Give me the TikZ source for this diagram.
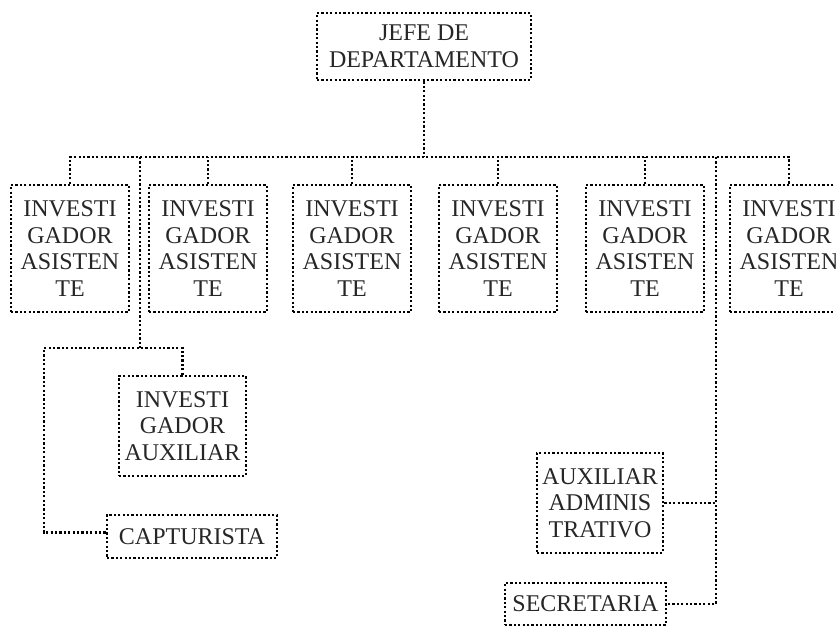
\documentclass[tikz,border=0pt]{standalone}
\usepackage{fontspec}
\setmainfont{Liberation Serif}
\begin{document}
\begin{tikzpicture}[x=1pt,y=-1pt,line width=2.6pt,
  font=\fontsize{24}{26.7}\selectfont,
  dots/.style={dash pattern=on 2.2pt off 2.2pt},
  unit/.style={draw,dots,align=center,inner sep=0pt,text=black!85},
  link/.style={dots}]
  \clip (0,0) rectangle (836,627);
  % head of the department and the main bus.
  \node[unit,minimum width=214,minimum height=67] (jefe) at (424,46.5)
    {JEFE DE\\DEPARTAMENTO};
  \coordinate (bus) at (424,157);
  \draw[link] (jefe) -- (bus);
  % row of assistant researchers.
  \foreach \n/\x in {a1/70,a2/208,a3/352,a4/498,a5/645,a6/789}{
    \node[unit,minimum width=118,minimum height=127] (\n) at (\x,248.5)
      {INVESTI\\GADOR\\ASISTEN\\TE};
  }
  \draw[link] (a1.north) |- (bus) -| (a6.north);
  \foreach \n in {a2,a3,a4,a5}{\draw[link] (\n.north) -- (\n.north |- bus);}
  % left branch: auxiliary researcher and data entry.
  \node[unit,minimum width=127,minimum height=100] (aux) at (182.5,426)
    {INVESTI\\GADOR\\AUXILIAR};
  \node[unit,minimum width=170,minimum height=43] (captur) at (192,536.5)
    {CAPTURISTA};
  \coordinate (lsplit) at (140,157);
  \coordinate (lhub) at (140,348);
  \coordinate (lcorner) at (44,348);
  \draw[link] (lsplit) -- (lhub);
  \draw[link] (aux.north) |- (lhub) -- (lcorner) |- ([yshift=4]captur.west);
  % right branch: administrative staff.
  \node[unit,minimum width=126,minimum height=100] (admin) at (600,503)
    {AUXILIAR\\ADMINIS\\TRATIVO};
  \node[unit,minimum width=161,minimum height=42] (secre) at (585.5,604)
    {SECRETARIA};
  \coordinate (rsplit) at (716,157);
  \draw[link] (rsplit) |- (secre.east);
  \draw[link] (admin.east) -- (admin.east -| rsplit);
\end{tikzpicture}
\end{document}
